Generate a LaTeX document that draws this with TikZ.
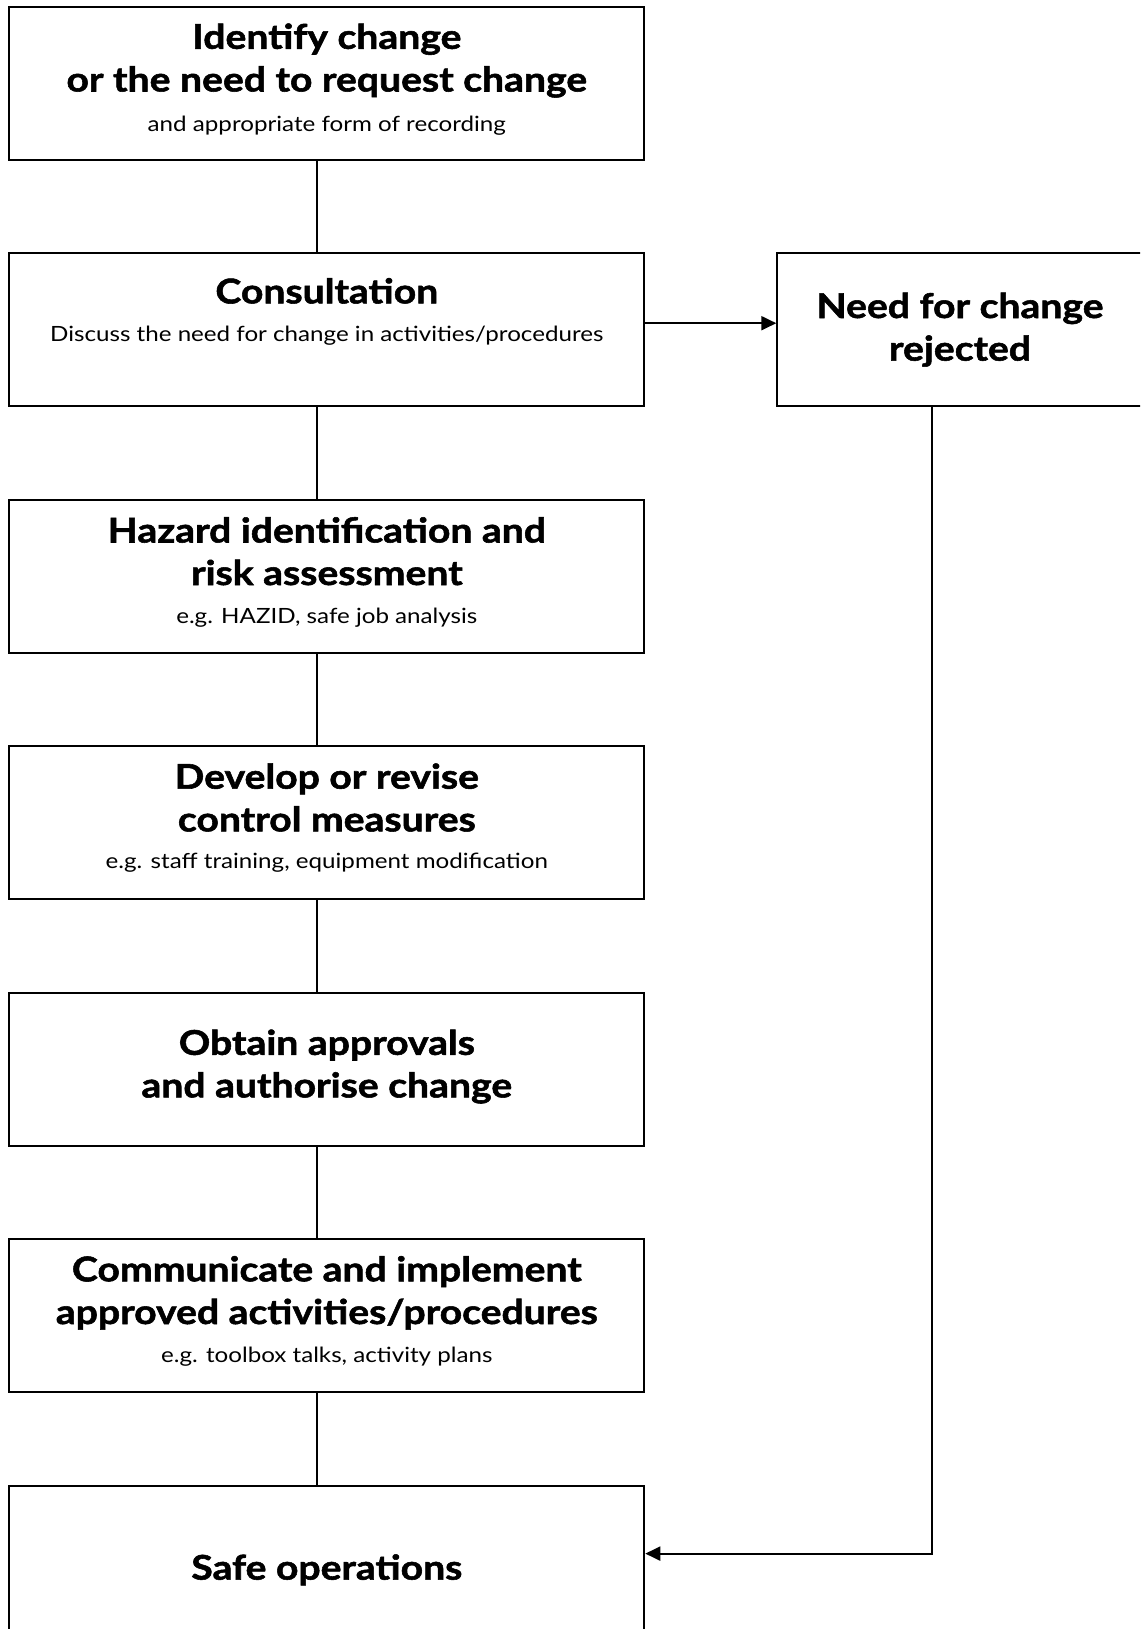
\documentclass[tikz,border=0pt]{standalone}
\usepackage{fontspec}
\setmainfont{Lato}[FakeStretch=1.15, BoldFeatures={FakeBold=1.6}]
\usetikzlibrary{arrows.meta}

\tikzset{
  stepbox/.style={draw=black, line width=2pt, minimum width=635pt, minimum height=153.3pt, inner sep=0pt, fill=white},
  headline/.style={anchor=base, inner sep=0pt, font=\fontsize{34}{40}\selectfont\bfseries},
  subline/.style={anchor=base, inner sep=0pt, font=\fontsize{21}{25}\selectfont},
  link/.style={draw=black, line width=2pt},
  flow/.style={link, -{Triangle[length=15pt,width=14pt]}}
}

\begin{document}
\begin{tikzpicture}[x=1pt, y=-1pt]
  \clip (0,0) rectangle (1140,1629);
  \fill[white] (0,0) rectangle (1140,1629);

  % main column of process steps
  \node[stepbox] (identify) at (326.8,83.7)   {};
  \node[stepbox] (consult)  at (326.8,329.4)  {};
  \node[stepbox] (hazard)   at (326.8,576.3)  {};
  \node[stepbox] (develop)  at (326.8,822.5)  {};
  \node[stepbox] (approve)  at (326.8,1069.3) {};
  \node[stepbox] (comm)     at (326.8,1315.6) {};
  \node[stepbox] (safe)     at (326.8,1562.6) {};

  % side branch
  \node[draw=black, line width=2pt, minimum width=370pt, minimum height=153.3pt, inner sep=0pt] (reject) at (962.3,329.4) {};

  % texts
  \node[headline] (t1a) at (326.8,48.8)  {Identify change};
  \node[headline] (t1b) at (326.8,91.5)  {or the need to request change};
  \node[subline]  (t1c) at (326.8,132)   {and appropriate form of recording};

  \node[headline] (t2a) at (326.8,303.4) {Consultation};
  \node[subline]  (t2b) at (326.8,341)   {Discuss the need for change in activities/procedures};

  \node[headline] (t3a) at (326.8,542.5) {Hazard identification and};
  \node[headline] (t3b) at (326.8,585)   {risk assessment};
  \node[subline]  (t3c) at (326.8,623.5) {e.g. HAZID, safe job analysis};

  \node[headline] (t4a) at (326.8,788.7) {Develop or revise};
  \node[headline] (t4b) at (326.8,831.4) {control measures};
  \node[subline]  (t4c) at (326.8,868.8) {e.g. staff training, equipment modification};

  \node[headline] (t5a) at (326.8,1054.8) {Obtain approvals};
  \node[headline] (t5b) at (326.8,1097.4) {and authorise change};

  \node[headline] (t6a) at (326.8,1281.3) {Communicate and implement};
  \node[headline] (t6b) at (326.8,1324)   {approved activities/procedures};
  \node[subline]  (t6c) at (326.8,1362.4) {e.g. toolbox talks, activity plans};

  \node[headline] (t7a) at (326.8,1579.6) {Safe operations};

  \node[headline] (t8a) at (960,318)   {Need for change};
  \node[headline] (t8b) at (960,360.6) {rejected};

  % connector guides
  \coordinate (spine) at (317,0);
  \coordinate (sidex) at (932.2,0);
  \coordinate (outy)  at (0,323.2);
  \coordinate (backy) at (0,1553.6);

  % connectors
  \draw[link] (identify.south -| spine) -- (consult.north -| spine);
  \draw[link] (consult.south -| spine)  -- (hazard.north -| spine);
  \draw[link] (hazard.south -| spine)   -- (develop.north -| spine);
  \draw[link] (develop.south -| spine)  -- (approve.north -| spine);
  \draw[link] (approve.south -| spine)  -- (comm.north -| spine);
  \draw[link] (comm.south -| spine)     -- (safe.north -| spine);

  \draw[flow] (consult.east |- outy) -- (reject.west |- outy);
  \draw[flow] (reject.south -| sidex) |- (safe.east |- backy);
\end{tikzpicture}
\end{document}
